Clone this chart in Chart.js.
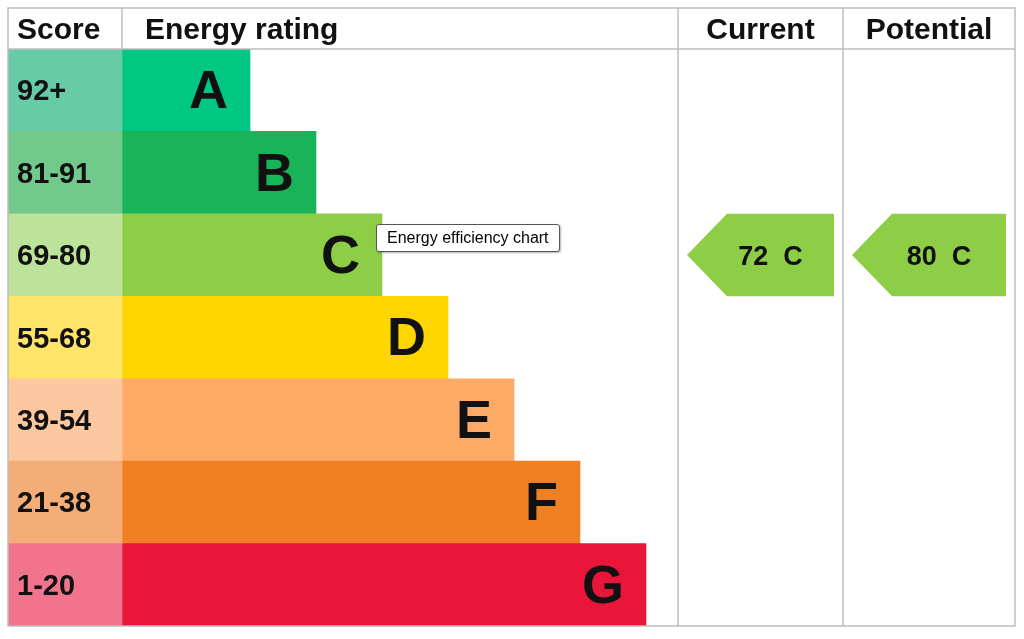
<!DOCTYPE html>
<html><head><meta charset="utf-8">
<script src="https://cdn.jsdelivr.net/npm/chart.js@4"></script>
<style>
html,body{margin:0;padding:0;background:#fff;}
#wrap{position:relative;width:1024px;height:639px;}
#tip{position:absolute;left:376px;top:224px;padding:4px 10px;border:1px solid #555;border-radius:3px;background:#fff;font:16px "Liberation Sans",Arial,sans-serif;box-shadow:1px 1px 2px rgba(0,0,0,.3);}
</style></head>
<body><div id="wrap"><canvas id="c" width="1024" height="639"></canvas><div id="tip">Energy efficiency chart</div></div>
<script>
const ratings = ['A','B','C','D','E','F','G'];
const scoreLabels = ['92+','81-91','69-80','55-68','39-54','21-38','1-20'];
const barEnds = [242,308,374,440,506,572,638];
const bandColors = ['#00c781','#19b459','#8dce46','#ffd500','#fcaa65','#ef8023','#e9153b'];
const scoreColors = ['#66cba6','#72c98c','#bde39a','#ffe46a','#fdc8a0','#f4ad77','#f2748c'];
const currentScore = 72, currentRating = 'C';
const potentialScore = 80, potentialRating = 'C';
const headers = ['Score','Energy rating','Current','Potential'];
const colEdges = [0,114,670,835,1007];

const F = '"Liberation Sans", Arial, sans-serif';
const plugin = {
  id:'epc',
  afterDatasetsDraw(chart){
    const ctx = chart.ctx, xs = chart.scales.x, ys = chart.scales.y;
    const L = xs.getPixelForValue(0), R = xs.getPixelForValue(1007);
    const T = chart.chartArea.top, B = chart.chartArea.bottom, H0 = 8;
    const rowH = ys.getPixelForValue(1)-ys.getPixelForValue(0);
    ctx.save();
    // letters and scores
    ctx.fillStyle='#111'; ctx.textBaseline='middle';
    ratings.forEach((r,i)=>{
      const y = ys.getPixelForValue(i);
      ctx.font='bold 54px '+F; ctx.textAlign='right';
      ctx.fillText(r, xs.getPixelForValue(barEnds[i])-22, y+3);
      ctx.font='bold 29px '+F; ctx.textAlign='left';
      ctx.fillText(scoreLabels[i], L+9, y+2);
    });
    // arrows
    const drawArrow=(c0,c1,score,rating)=>{
      const i = ratings.indexOf(rating), y = ys.getPixelForValue(i);
      const x0 = xs.getPixelForValue(colEdges[c0])+9, x1 = xs.getPixelForValue(colEdges[c1])-9;
      const h = rowH/2;
      ctx.fillStyle = bandColors[i];
      ctx.beginPath(); ctx.moveTo(x0,y); ctx.lineTo(x0+40,y-h); ctx.lineTo(x1,y-h); ctx.lineTo(x1,y+h); ctx.lineTo(x0+40,y+h); ctx.closePath(); ctx.fill();
      ctx.fillStyle='#111'; ctx.font='bold 27px '+F; ctx.textAlign='center';
      ctx.fillText(score+'  '+rating,(x0+x1)/2+10,y+2);
    };
    drawArrow(2,3,currentScore,currentRating);
    drawArrow(3,4,potentialScore,potentialRating);
    // grid
    ctx.strokeStyle='#bdbdbd'; ctx.lineWidth=1.5;
    ctx.strokeRect(L,H0,R-L,B-H0);
    ctx.beginPath(); ctx.moveTo(L,T); ctx.lineTo(R,T);
    [1,2,3].forEach(k=>{const x=xs.getPixelForValue(colEdges[k]); if(k>1){ctx.moveTo(x,H0);ctx.lineTo(x,B);} else {ctx.moveTo(x,H0);ctx.lineTo(x,T);} });
    ctx.stroke();
    // headers
    ctx.fillStyle='#111'; ctx.font='bold 30px '+F;
    const hy=(H0+T)/2+2;
    ctx.textAlign='left';
    ctx.fillText(headers[0],L+9,hy);
    ctx.fillText(headers[1],xs.getPixelForValue(colEdges[1])+23,hy);
    ctx.textAlign='center';
    ctx.fillText(headers[2],(xs.getPixelForValue(colEdges[2])+xs.getPixelForValue(colEdges[3]))/2,hy);
    ctx.fillText(headers[3],(xs.getPixelForValue(colEdges[3])+xs.getPixelForValue(colEdges[4]))/2,hy);
    ctx.restore();
  }
};
new Chart(document.getElementById('c'),{
  type:'bar',
  data:{labels:ratings,datasets:[
    {data:ratings.map(()=>[colEdges[0],colEdges[1]]),backgroundColor:scoreColors,barPercentage:1,categoryPercentage:1,grouped:false},
    {data:barEnds.map(e=>[colEdges[1],e]),backgroundColor:bandColors,barPercentage:1,categoryPercentage:1,grouped:false}
  ]},
  options:{indexAxis:'y',responsive:false,animation:false,
    layout:{padding:{left:8,right:9,top:49,bottom:13}},
    plugins:{legend:{display:false},tooltip:{enabled:false}},
    scales:{x:{display:false,min:0,max:1007},y:{display:false}}},
  plugins:[plugin]
});
</script></body></html>
